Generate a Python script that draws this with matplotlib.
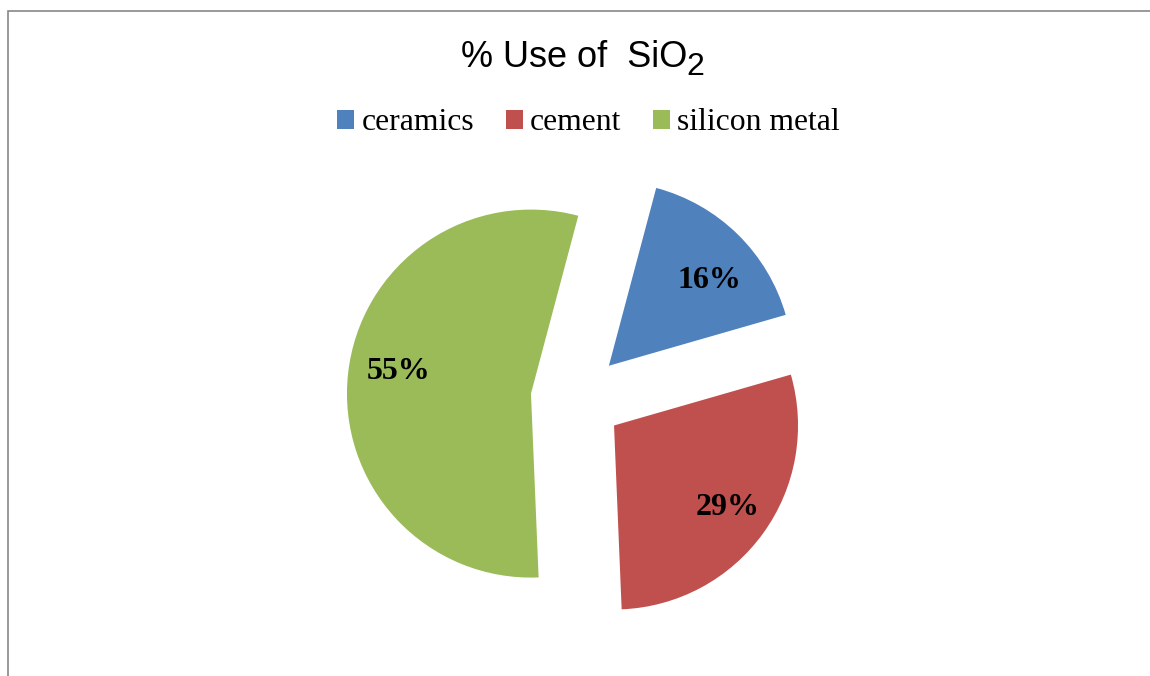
import matplotlib
matplotlib.use('Agg')
import matplotlib.pyplot as plt
import matplotlib.transforms as mtransforms
from matplotlib.patches import Rectangle
from matplotlib.font_manager import FontProperties

categories = ['ceramics', 'cement', 'silicon metal']
values = [16.4, 28.8, 54.8]
colors = ['#4F81BD', '#C0504D', '#9BBB59']
title_main = '% Use of  SiO'
title_sub = '2'

W, H = 1150, 676
fig = plt.figure(figsize=(W / 100, H / 100), dpi=100)
ax = fig.add_axes([0, 0, 1, 1])

cx, cy, r = 576.7, 277.4, 184.0
wedges, texts, autotexts = ax.pie(
    values, explode=[0.25] * len(values), startangle=75.1, counterclock=False,
    colors=colors, autopct='%1.0f%%', pctdistance=0.73, radius=1,
    wedgeprops=dict(linewidth=0),
    textprops=dict(family='Liberation Serif', fontweight='bold', fontsize=23, color='black'))
ax.set_xlim(-cx / r, (W - cx) / r)
ax.set_ylim(-cy / r, (H - cy) / r)
ax.set_aspect('auto')
ax.axis('off')

# small label nudges (in points) to mimic the original label placement
label_nudges = [(4.5, -7.5), (3.0, -2.2), (1.0, 5.0)]
for at, (dx, dy) in zip(autotexts, label_nudges):
    at.set_transform(ax.transData + mtransforms.ScaledTranslation(dx / 72, dy / 72, fig.dpi_scale_trans))

# legend
fig.legend(wedges, categories, loc='center', bbox_to_anchor=(588.5 / W, 1 - 123 / H),
           ncol=3, frameon=False,
           prop=FontProperties(family='Liberation Serif', size=22.8),
           handlelength=0.54, handleheight=0.54, handletextpad=0.22,
           columnspacing=1.0, borderpad=0, borderaxespad=0)

# title with subscript
t = fig.text(461.0 / W, 1 - 67 / H, title_main, family='Liberation Sans', fontsize=26,
             ha='left', va='baseline', color='black')
fig.canvas.draw()
bb = t.get_window_extent()
fig.text((bb.x1 - 1) / W, 1 - 75 / H, title_sub, family='Liberation Sans', fontsize=23,
         ha='left', va='baseline', color='black')

# chart frame (left and top edges visible)
fig.add_artist(Rectangle((8 / W, -0.1), 1.2, 1.1 - 11 / H, transform=fig.transFigure,
                         fill=False, edgecolor='#878787', linewidth=1.2))

fig.savefig('out.png', dpi=100)
